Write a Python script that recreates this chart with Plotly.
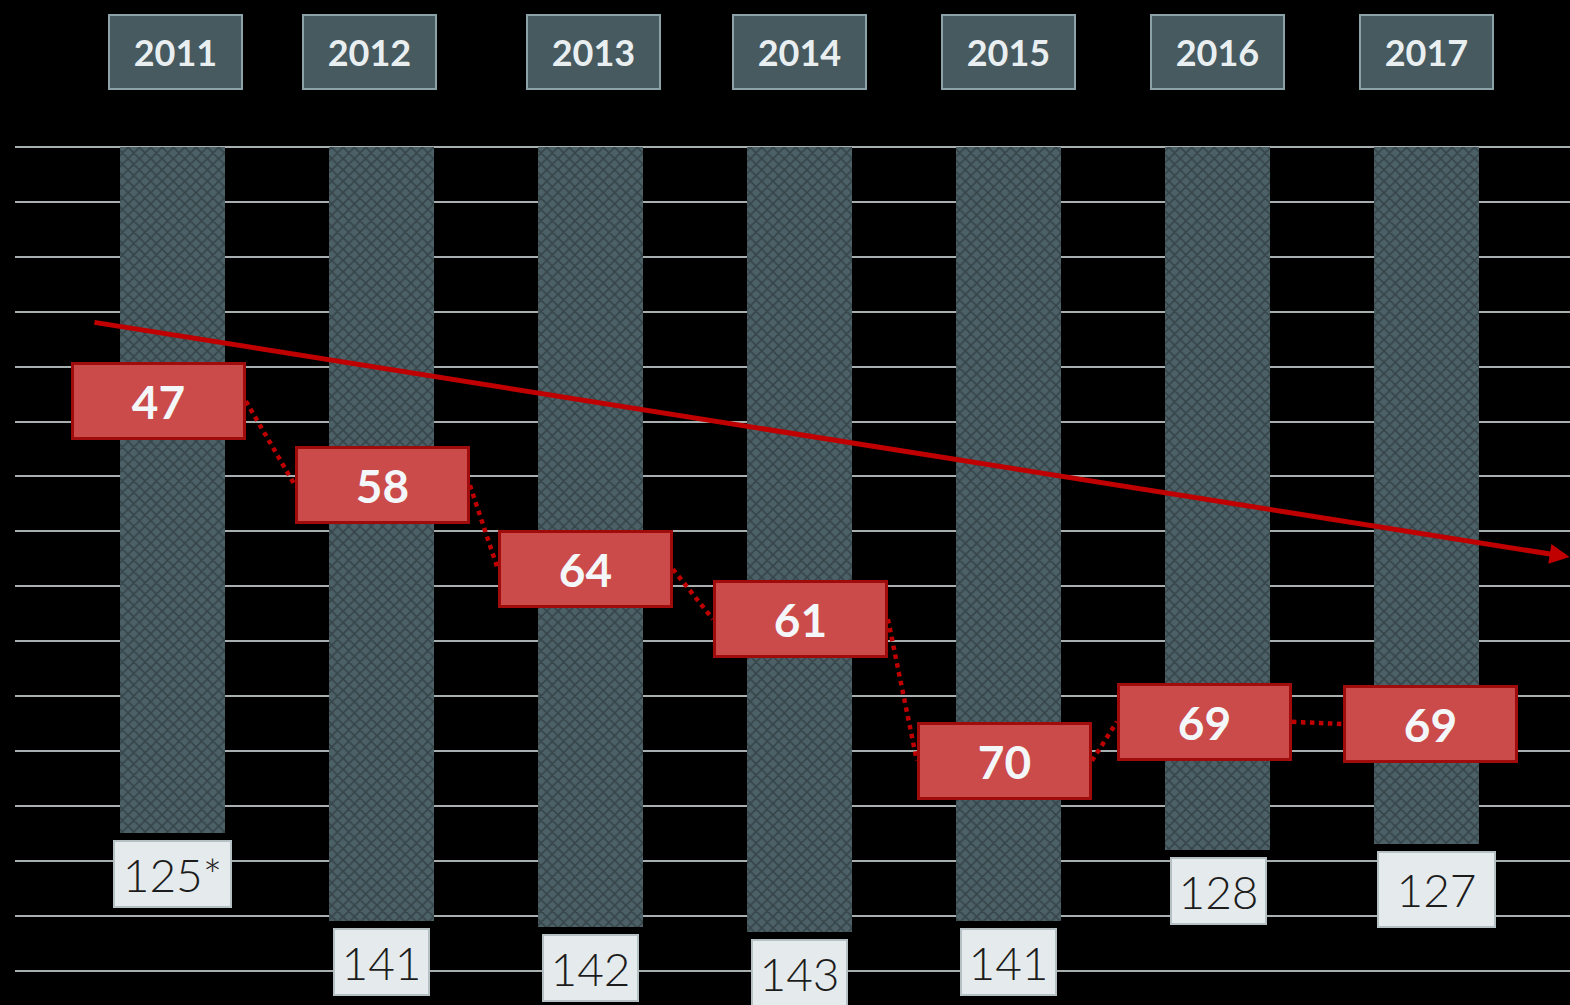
import plotly.graph_objects as go

# ---- data ----
years = ["2011", "2012", "2013", "2014", "2015", "2016", "2017"]
totals = [125, 141, 142, 143, 141, 128, 127]
total_labels = ["125*", "141", "142", "143", "141", "128", "127"]
ranks = [47, 58, 64, 61, 70, 69, 69]
# vertical level (in axis units) of each red rank callout
rank_levels = [46.3, 61.6, 76.9, 86.0, 111.8, 104.7, 105.1]
# decorative trend arrow (axis units)
trend_x = [-0.38, 6.685]
trend_y = [31.9, 74.7]

# ---- style ----
W, H = 1570, 1005
ML, MR, MT = 15, 0, 136
X_RANGE = [-0.753, 6.687]
Y_RANGE = [155, -2]
PX_X = (W - ML - MR) / (X_RANGE[1] - X_RANGE[0])
PLOT_H = 862
MB = H - MT - PLOT_H

year_shift = [3, -12, 3, 0, 0, 0, 0]
rank_shift = [-14, 1, -5, 1, -4, -13, 4]
total_shift = [0, 0, 0, 0, 0, 1, 10]

RED_W, RED_H = 175, 78
xs = list(range(len(years)))

fig = go.Figure()

fig.add_trace(go.Bar(
    x=xs, y=totals, base=0, width=0.5,
    marker=dict(
        color="#44575c",
        line=dict(width=0),
        pattern=dict(shape="x", fgcolor="#1f292c", bgcolor="#4c6167",
                     size=8, solidity=0.38, fillmode="overlay"),
    ),
    hoverinfo="skip", showlegend=False,
))

# dotted connectors between rank callouts
for i in range(len(xs) - 1):
    x0 = xs[i] + (rank_shift[i] + RED_W / 2) / PX_X
    x1 = xs[i + 1] + (rank_shift[i + 1] - RED_W / 2) / PX_X
    fig.add_trace(go.Scatter(
        x=[x0, x1], y=[rank_levels[i], rank_levels[i + 1]],
        mode="lines", line=dict(color="#c00000", width=4.5, dash="dot"),
        hoverinfo="skip", showlegend=False,
    ))

annotations = []

# trend arrow
annotations.append(dict(
    x=trend_x[1], y=trend_y[1], ax=trend_x[0], ay=trend_y[0],
    xref="x", yref="y", axref="x", ayref="y", text="",
    showarrow=True, arrowhead=2, arrowsize=0.8, arrowwidth=5,
    arrowcolor="#c00000", standoff=0,
))

# year header boxes
for i, yr in enumerate(years):
    annotations.append(dict(
        x=xs[i], y=0, xref="x", yref="y", xanchor="center", yanchor="bottom",
        xshift=year_shift[i], yshift=57, text="<b>%s</b>" % yr, showarrow=False,
        width=131, height=72, bgcolor="#465a60", bordercolor="#8aa2a8",
        borderwidth=2, borderpad=0,
        font=dict(family="Lato, Noto Sans, sans-serif", size=36, color="#e9eff1"),
    ))

# total labels under bars
for i, lab in enumerate(total_labels):
    wide = len(lab) > 3 or i == 6
    annotations.append(dict(
        x=xs[i], y=totals[i], xref="x", yref="y", xanchor="center", yanchor="top",
        xshift=total_shift[i], yshift=-7, text=lab, showarrow=False,
        width=115 if wide else 93, height=64 if i != 6 else 73,
        bgcolor="#e5eaec", bordercolor="#b5c0c4", borderwidth=2, borderpad=0,
        font=dict(family="Lato, Noto Sans, sans-serif", size=46, color="#1c1c1c",
                  weight=300),
    ))

# red rank callouts
for i, r in enumerate(ranks):
    annotations.append(dict(
        x=xs[i], y=rank_levels[i], xref="x", yref="y", xanchor="center",
        yanchor="middle", xshift=rank_shift[i], text="<b>%d</b>" % r,
        showarrow=False, width=RED_W - 6, height=RED_H - 6,
        bgcolor="#cb4a4a", bordercolor="#a00c0c", borderwidth=3, borderpad=0,
        font=dict(family="Lato, Noto Sans, sans-serif", size=46, color="#f3f7f9"),
    ))

fig.update_layout(
    width=W, height=H,
    margin=dict(l=ML, r=MR, t=MT, b=MB),
    paper_bgcolor="black", plot_bgcolor="black",
    xaxis=dict(range=X_RANGE, showgrid=False, zeroline=False,
               showticklabels=False, fixedrange=True),
    yaxis=dict(range=Y_RANGE, tick0=0, dtick=10, showgrid=True,
               gridcolor="#a7afb1", gridwidth=2, zeroline=False,
               showticklabels=False, fixedrange=True),
    annotations=annotations,
    bargap=0, showlegend=False,
)

fig.write_html(
    "out.html",
    config={"displayModeBar": False},
    post_script="document.body.style.margin='0';document.body.style.background='black';"
                "document.body.style.overflow='hidden';",
)
